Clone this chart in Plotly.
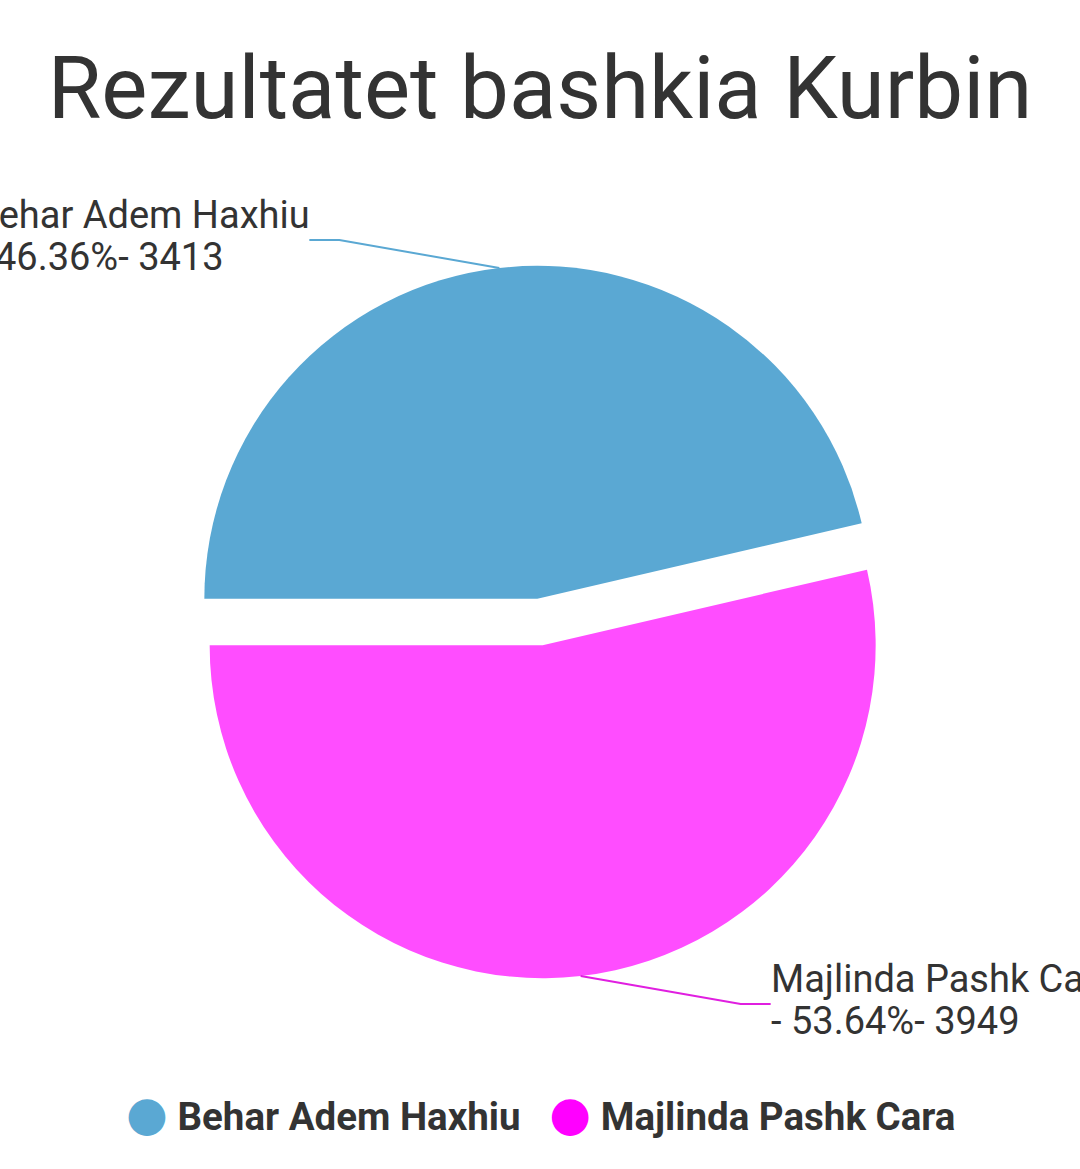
import math
import plotly.graph_objects as go

# ---- data ----
candidates = ["Behar Adem Haxhiu", "Majlinda Pashk Cara"]
votes = [3413, 3949]
slice_colors = ["#5aa8d3", "#ff4dff"]
legend_colors = ["#5aa8d3", "#ff00ff"]
line_colors = ["#5aa8d3", "#e01fe0"]
title_text = "Rezultatet bashkia Kurbin"

# ---- layout parameters (pixels) ----
W, H = 1080, 1169
CX, CY = 540, 622      # pie centre
R = 333                # pie radius
PULL = 0.07
TXT = "#333333"
FONT = "Roboto, DejaVu Sans, sans-serif"
LABEL_SIZE = 38
LINE_GAP = 42

def px(x):
    return x / W

def py(y):
    return 1 - y / H

half = R * (1 + PULL)
dom_y = [py(CY + half), py(CY - half)]

fig = go.Figure()
fig.add_trace(go.Pie(
    labels=candidates,
    values=votes,
    sort=False,
    direction="clockwise",
    rotation=270,
    pull=[PULL] * len(votes),
    marker=dict(colors=slice_colors, line=dict(width=0)),
    textinfo="none",
    hoverinfo="label+value+percent",
    showlegend=False,
    domain=dict(x=[0, 1], y=dom_y),
))

total = sum(votes)
shapes = []
annotations = []
cum = 0
for name, v, lc in zip(candidates, votes, line_colors):
    frac = v / total
    mid = math.radians(180 - 360 * (cum + frac / 2))
    cum += frac
    sx = 1 if math.cos(mid) >= 0 else -1
    sy = 1 if math.sin(mid) >= 0 else -1
    ccx = CX + PULL * R * math.cos(mid)
    ccy = CY - PULL * R * math.sin(mid)
    ax_, ay_ = ccx + R * math.cos(mid), ccy - R * math.sin(mid)
    ex, ey = ax_ + sx * 160, ay_ - sy * 28
    tx, ty = ex + sx * 30, ey
    shapes.append(dict(
        type="path", xref="paper", yref="paper",
        path=f"M {px(ax_)} {py(ay_)} L {px(ex)} {py(ey)} L {px(tx)} {py(ty)}",
        line=dict(color=lc, width=2),
    ))
    pct = 100 * frac
    lines = [name, f"- {pct:.2f}%- {v}"]
    if sx > 0:
        left_edge = tx - 1
    else:
        # block sits left of the leader end; lines share a common left edge
        est_w = 0.523 * LABEL_SIZE * len(lines[0])
        left_edge = tx + 3 - est_w
    for k, line in enumerate(lines):
        yc = ty - 4 + (k - 0.5) * LINE_GAP
        annotations.append(dict(
            x=px(left_edge), y=py(yc), xref="paper", yref="paper",
            text=line, showarrow=False, align="left",
            xanchor="left", yanchor="middle", borderpad=0,
            font=dict(family=FONT, size=LABEL_SIZE, color=TXT),
        ))

legend_parts = []
for name, c in zip(candidates, legend_colors):
    legend_parts.append(
        f'<span style="color:{c};font-size:48px">●</span> <b>{name}</b>'
    )
annotations.append(dict(
    x=0.5, y=py(1113), xref="paper", yref="paper",
    text="   ".join(legend_parts),
    showarrow=False, xanchor="center", yanchor="middle",
    font=dict(family=FONT, size=38.5, color=TXT),
))

fig.update_layout(
    width=W, height=H,
    margin=dict(l=0, r=0, t=0, b=0),
    paper_bgcolor="white", plot_bgcolor="white",
    title=dict(text=title_text, x=0.5, xanchor="center",
               y=py(88), yanchor="middle",
               font=dict(family=FONT, size=87, color=TXT)),
    shapes=shapes,
    annotations=annotations,
    showlegend=False,
)

fig.write_html(
    "out.html",
    config={"displayModeBar": False},
    post_script="document.body.style.margin='0';document.body.style.overflow='hidden';",
)
